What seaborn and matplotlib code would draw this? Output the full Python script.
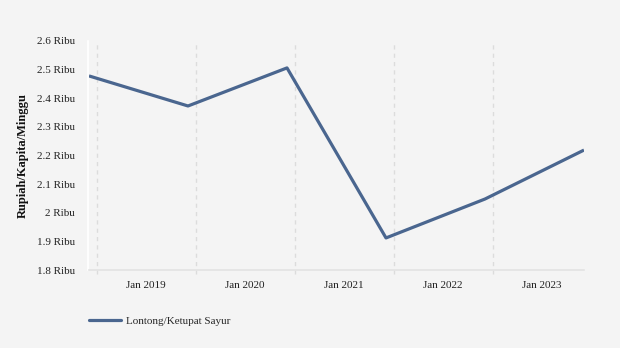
import matplotlib
matplotlib.use("Agg")
import matplotlib.pyplot as plt
import seaborn as sns
import pandas as pd
import numpy as np
from matplotlib.lines import Line2D

# Data
years = [2018, 2019, 2020, 2021, 2022, 2023]
values = [2.478, 2.373, 2.506, 1.912, 2.048, 2.219]
series_name = "Lontong/Ketupat Sayur"
xtick_labels = ["Jan 2019", "Jan 2020", "Jan 2021", "Jan 2022", "Jan 2023"]
ytick_values = [1.8, 1.9, 2.0, 2.1, 2.2, 2.3, 2.4, 2.5, 2.6]
ytick_labels = ["1.8 Ribu", "1.9 Ribu", "2 Ribu", "2.1 Ribu", "2.2 Ribu",
                "2.3 Ribu", "2.4 Ribu", "2.5 Ribu", "2.6 Ribu"]
y_label = "Rupiah/Kapita/Minggu"

BG = "#f4f4f4"
LINE = "#4a668f"

sns.set_theme(style="white")
plt.rcParams["font.family"] = ["Liberation Serif", "DejaVu Serif"]
plt.rcParams["xtick.labelsize"] = 8
plt.rcParams["ytick.labelsize"] = 8

df = pd.DataFrame({"year": years, "value": values, "series": series_name})
df["x"] = np.arange(len(years))

fig = plt.figure(figsize=(6.2, 3.48), dpi=100, facecolor=BG)
ax = fig.add_axes([89/620, 1-270/348, (584-89)/620, (270-41)/348])
ax.set_facecolor(BG)

sns.lineplot(data=df, x="x", y="value", hue="series", palette=[LINE],
             linewidth=2.3, ax=ax, legend=False, solid_capstyle="butt")

ax.set_xlim(0, 5)
ax.set_ylim(1.8, 2.6)

# gridlines between years (Jan marks)
grid_pos = [i + 0.078 for i in range(5)]
label_pos = [g + 0.5 for g in grid_pos]
for g in grid_pos:
    ax.axvline(g, ymin=-0.017, ymax=1, color="#dcdcdc", lw=1.0,
               linestyle=(0, (3, 3)), zorder=0, clip_on=False)

ax.tick_params(axis="x", length=0, pad=8, labelsize=8, labelcolor="#222222")
ax.tick_params(axis="y", length=5, width=1, color="white", pad=4,
               direction="out", labelsize=8, labelcolor="#222222")
ax.set_xticks(label_pos)
ax.set_xticklabels(xtick_labels, fontsize=8)
ax.set_yticks(ytick_values)
ax.set_yticklabels(ytick_labels, fontsize=8)

for s in ["top", "right"]:
    ax.spines[s].set_visible(False)
ax.spines["left"].set_color("white")
ax.spines["left"].set_linewidth(1.2)
ax.spines["left"].set_position(("outward", 1))
ax.spines["bottom"].set_color("#e3e3e3")
ax.spines["bottom"].set_linewidth(1.2)

ax.set_xlabel("")
ax.set_ylabel(y_label, fontsize=9, fontweight="bold", color="#111111")
ax.yaxis.set_label_coords(-0.121, 0.5)

handle = Line2D([0], [0], color=LINE, lw=2.3)
fig.legend([handle], [series_name], loc="center left",
           bbox_to_anchor=(89/620, 1-321/348), frameon=False, fontsize=8,
           handlelength=2.9, handletextpad=0.45, borderpad=0, borderaxespad=0)

fig.savefig("out.png", dpi=100, facecolor=BG)
